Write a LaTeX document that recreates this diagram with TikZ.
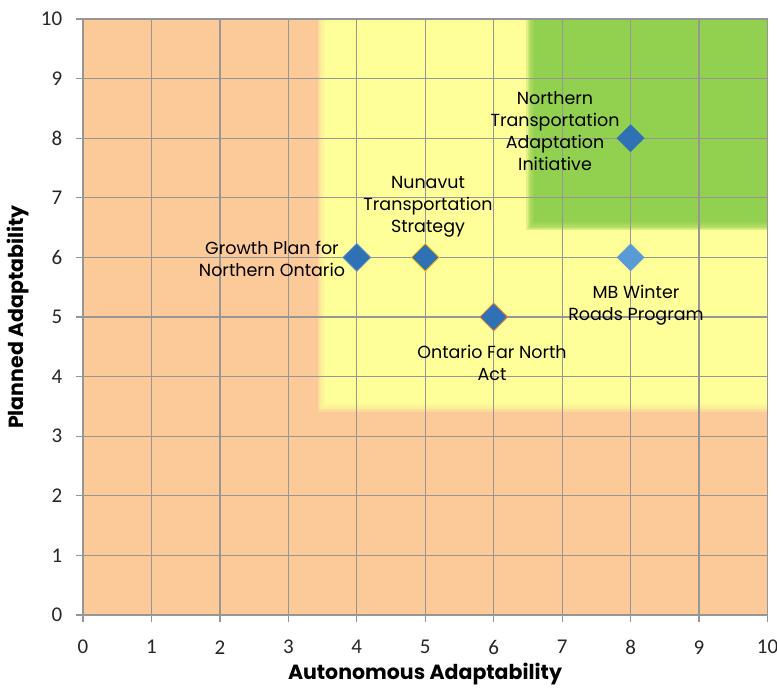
\documentclass[tikz,border=0pt]{standalone}
\usepackage{fontspec}
\setmainfont{Poppins}
\newfontfamily\numfont{Carlito}
\usetikzlibrary{shapes.geometric}
\definecolor{bgorange}{HTML}{FCCA99}
\definecolor{bgyellow}{HTML}{FFFF99}
\definecolor{bggreen}{HTML}{92D050}
\definecolor{gridgray}{HTML}{969696}
\definecolor{ptblue}{HTML}{2E72B5}
\definecolor{ptlight}{HTML}{5B9BD5}
\definecolor{edgegold}{HTML}{FFC000}
\definecolor{edgeorange}{HTML}{ED7D31}
\begin{document}
\begin{tikzpicture}[x=1pt,y=-1pt,
  gridline/.style={draw=gridgray,line width=1.2pt},
  ticklabel/.style={font=\numfont\fontsize{21}{23}\selectfont,inner sep=0pt,text=black!85},
  ptmark/.style={shape=diamond,minimum width=28pt,minimum height=28pt,inner sep=0pt,fill=ptblue},
  ptlabel/.style={font=\fontsize{17.5}{22}\selectfont,align=center,inner sep=0pt,text=black},
  axtitle/.style={font=\bfseries\fontsize{20.5}{22}\selectfont,inner sep=0pt}]
\useasboundingbox (0,0) rectangle (777,689);
\begin{scope}[shift={(83pt,-615pt)},x=68.45pt,y=59.6pt]
  % background zones
  \fill[bgorange] (0,0) rectangle (10,10);
  \fill[bgyellow] (3.54,3.54) rectangle (10,10);
  \foreach \i in {1,...,7}
    \fill[bgyellow,opacity=0.28] ({3.54-\i*0.016},{3.54-\i*0.018}) rectangle (10,10);
  \fill[bggreen] (6.59,6.59) rectangle (10,10);
  \foreach \i in {1,...,7}
    \fill[bggreen,opacity=0.28] ({6.59-\i*0.016},{6.59-\i*0.018}) rectangle (10,10);
  % grid and ticks
  \foreach \i in {0,...,10} {
    \draw[gridline] (\i,0) -- (\i,10);
    \draw[gridline] (0,\i) -- (10,\i);
    \draw[gridline] (0,\i) -- ++(-7pt,0pt);
    \draw[gridline] (\i,0) -- ++(0pt,-7pt);
    \node[ticklabel,anchor=east] (yl\i) at (-0.30,\i) {\i};
    \node[ticklabel,anchor=center] (xl\i) at (\i,-0.54) {\i};
  }
  % data points
  \node[ptmark] (nta) at (8,8) {};
  \node[ptmark,draw=edgegold,line width=0.8pt] (nts) at (5,6) {};
  \node[ptmark,draw=ptlight!70!gray,line width=0.8pt] (gpn) at (4,6) {};
  \node[ptmark,fill=ptlight] (mbw) at (8,6) {};
  \node[ptmark,draw=edgeorange,line width=0.8pt] (ofn) at (6,5) {};
  % labels
  \node[ptlabel] (lnta) at (6.896,8.12) {Northern\\Transportation\\Adaptation\\Initiative};
  \node[ptlabel] (lnts) at (5.04,6.846) {Nunavut\\Transportation\\Strategy};
  \node[ptlabel] (lgpn) at (2.761,5.973) {Growth Plan for\\Northern Ontario};
  \node[ptlabel] (lmbw) at (8.079,5.20) {MB Winter\\Roads Program};
  \node[ptlabel] (lofn) at (5.975,4.228) {Ontario Far North\\Act};
\end{scope}
\node[axtitle] (xt) at (425,674) {Autonomous Adaptability};
\node[axtitle,rotate=90] (yt) at (18,317) {Planned Adaptability};
\end{tikzpicture}
\end{document}
